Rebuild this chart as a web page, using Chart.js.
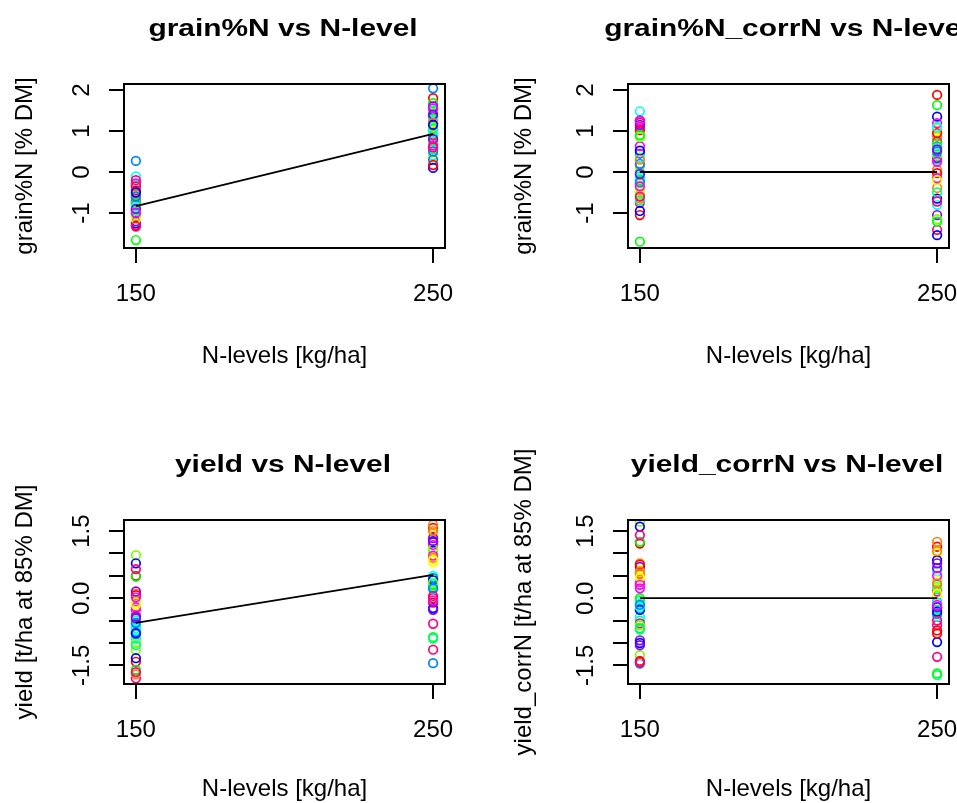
<!DOCTYPE html>
<html>
<head>
<meta charset="utf-8">
<script src="https://cdn.jsdelivr.net/npm/chart.js@4"></script>
<style>
html,body{margin:0;padding:0;background:#fff;overflow:hidden;width:957px;height:803px;}
canvas{position:absolute;}
</style>
</head>
<body>
<canvas id="c1" width="479" height="420" style="left:0px;top:0px"></canvas>
<canvas id="c2" width="479" height="420" style="left:478px;top:0px"></canvas>
<canvas id="c3" width="479" height="420" style="left:0px;top:401px"></canvas>
<canvas id="c4" width="479" height="420" style="left:478px;top:401px"></canvas>
<script>
// ---------- data ----------
const nLevels = [150, 250];
const xTickValues = [150, 250];
const yTicksGrain = [-1, 0, 1, 2];
const yTickLabelsGrain = ['-1', '0', '1', '2'];
const yTicksYield = [-1.5, -1, -0.5, 0, 0.5, 1, 1.5];
const yTickLabelsYield = ['-1.5', '', '', '0.0', '', '', '1.5'];

const panelTitles = ['grain%N vs N-level', 'grain%N_corrN vs N-level', 'yield vs N-level', 'yield_corrN vs N-level'];
const yAxisTitles = ['grain%N [% DM]', 'grain%N [% DM]', 'yield [t/ha at 85% DM]', 'yield_corrN [t/ha at 85% DM]'];
const xAxisTitle = 'N-levels [kg/ha]';

const grainN_150 = [-0.3, -0.9, -0.95, -0.5, -1.66, -0.6, -0.11, 0.27, -1.25, -0.75, -0.28, -0.2,
                    -0.45, -0.8, -1.05, -1.1, -0.35, -1.0, -0.7, -0.8, -0.95, -1.2, -0.7, -0.35,
                    -1.3, -0.55, -1.15, -0.9, -0.75, -0.95, -0.85, -0.6, -0.5, -0.9, -1.0, -1.33];
const grainN_250 = [1.8, 0.9, 0.45, 1.45, 1.68, 1.5, 0.4, 2.04, 1.35, 1.6, 1.55, 1.0,
                    0.6, 0.75, 0.35, 0.7, 1.3, 0.55, 1.25, 0.3, 0.1, 1.4, 1.2, 0.9,
                    0.17, 1.2, 1.0, 1.1, 0.85, 1.05, 0.95, 0.5, 1.15, 0.8, 0.65, 0.6];
const grainN_means = [-0.83, 0.93];

const grainNcorr_150 = [1.2, 0.15, -0.4, -0.45, -1.7, -0.1, 1.48, 0.45, 1.25, -0.3, 0.63, 1.1,
                        1.02, -0.65, -0.5, 0.85, 0.9, 0.0, 0.35, 0.2, 0.52, 1.15, 1.25, -0.75,
                        -1.05, 0.3, -0.3, -0.55, -0.2, -0.7, -0.15, -0.25, -0.95, -0.05, -0.35, -0.6];
const grainNcorr_250 = [1.88, 0.86, 1.0, 1.07, 1.63, 0.3, -0.8, 0.62, 1.35, -1.05, 1.19, 0.74,
                        0.95, 0.05, 0.5, -1.15, 0.7, 0.6, 0.45, 0.38, -0.65, 0.34, -0.15, -1.41,
                        -0.03, -0.39, -0.2, 0.4, -1.21, -0.5, 1.1, 0.5, -1.54, 0.55, 0.25, -0.72];
const grainNcorr_means = [0, 0];

const yield_150 = [0.5, 0.1, -0.04, 0.96, 0.48, -0.9, -0.67, -0.75, 0.78, 0.15, -0.26, 0.65,
                   0.07, -0.37, -0.1, -1.0, -0.57, -0.6, -0.72, -0.8, -0.78, -0.41, -0.2, -1.79,
                   -1.42, -1.7, -0.15, -1.16, -1.6, -1.05, -0.5, -0.55, -1.34, -0.45, 0.02, -1.65];
const yield_250 = [1.57, 1.64, 1.41, 1.04, 0.45, 0.25, 0.3, -1.45, 1.25, 1.34, 1.19, -0.57,
                   0.0, 1.5, 0.8, 1.1, 0.3, 0.4, 0.5, 0.45, 0.4, 1.28, 0.95, -1.15,
                   -0.1, 0.9, 0.85, 0.35, -0.87, -0.9, 0.2, 0.22, -0.22, -0.26, -0.05, 0.05];
const yield_means = [-0.55, 0.52];

const yieldCorr_150 = [1.22, 0.78, 0.63, 1.71, 1.26, -0.05, -0.12, -1.46, 1.6, 0.7, 0.36, 1.41,
                       0.75, 0.6, 0.5, -1.27, 0.0, -0.5, -0.41, -0.25, -0.26, -0.94, 0.22, -0.56,
                       -1.4, 0.55, 0.45, -0.6, -0.67, -0.7, -0.2, -0.15, -1.0, -1.05, 0.3, -1.43];
const yieldCorr_250 = [1.15, 1.26, 1.0, 0.08, 0.2, -1.72, 0.6, -0.08, 0.85, 0.78, 0.15, -0.6,
                       -0.72, 1.05, 0.4, 0.25, -0.26, 0.3, -0.41, -0.2, -0.98, 0.67, 0.5, -1.31,
                       -0.79, 0.33, 0.1, -0.3, -1.68, -0.2, -0.1, -0.35, -0.3, -0.2, -0.15, -0.5];
const yieldCorr_means = [0, 0];

// ---------- style ----------
const rainbow12 = ['#FF0000', '#FF8000', '#FFFF00', '#80FF00', '#00FF00', '#00FF80',
                   '#00FFFF', '#0080FF', '#0000FF', '#8000FF', '#FF00FF', '#FF0080'];
const FONT = "'Liberation Sans', Arial, Helvetica, sans-serif";
Chart.defaults.font.family = FONT;
Chart.defaults.font.size = 24;
Chart.defaults.color = '#000';

const rTitle = {
  id: 'rTitle',
  afterDraw(chart, args, opts) {
    const ctx = chart.ctx;
    ctx.save();
    ctx.font = 'bold 23px ' + FONT;
    ctx.fillStyle = '#000';
    ctx.textAlign = 'center';
    ctx.textBaseline = 'alphabetic';
    ctx.translate(opts.x, opts.y);
    ctx.scale(1.3, 1);
    ctx.fillText(opts.text, 0, 0);
    ctx.restore();
  }
};
const rBox = {
  id: 'rBox',
  afterDatasetsDraw(chart) {
    const a = chart.chartArea, ctx = chart.ctx;
    ctx.save();
    ctx.strokeStyle = '#000';
    ctx.lineWidth = 2;
    ctx.strokeRect(a.left, a.top, a.right - a.left, a.bottom - a.top);
    ctx.restore();
  }
};

const CW = 479, CH = 420;
const panels = [
  {id: 'c1', ox: 0,   oy: 0,   box: [124, 445, 84, 248],  yr: [-1.854, 2.146], v150: grainN_150, v250: grainN_250, means: grainN_means, yt: yTicksGrain, yl: yTickLabelsGrain, ytPad: 16, yTitleX: 10.6, xTitlePad: 49, title: panelTitles[0], ytitle: yAxisTitles[0], tx: 283, ty: 36},
  {id: 'c2', ox: 478, oy: 0,   box: [628, 949, 84, 248],  yr: [-1.854, 2.146], v150: grainNcorr_150, v250: grainNcorr_250, means: grainNcorr_means, yt: yTicksGrain, yl: yTickLabelsGrain, ytPad: 16, yTitleX: 32, xTitlePad: 49, title: panelTitles[1], ytitle: yAxisTitles[1], tx: 787, ty: 36},
  {id: 'c3', ox: 0,   oy: 401, box: [124, 445, 520, 684], yr: [-1.916, 1.747], v150: yield_150, v250: yield_250, means: yield_means, yt: yTicksYield, yl: yTickLabelsYield, ytPad: 6, yTitleX: 10.6, xTitlePad: 17, title: panelTitles[2], ytitle: yAxisTitles[2], tx: 283, ty: 472},
  {id: 'c4', ox: 478, oy: 401, box: [628, 949, 520, 684], yr: [-1.916, 1.747], v150: yieldCorr_150, v250: yieldCorr_250, means: yieldCorr_means, yt: yTicksYield, yl: yTickLabelsYield, ytPad: 6, yTitleX: 32, xTitlePad: 17, title: panelTitles[3], ytitle: yAxisTitles[3], tx: 787, ty: 472}
];

panels.forEach(p => {
  const [L, R, T, B] = p.box;
  const pts = p.v150.map(v => ({x: nLevels[0], y: v})).concat(p.v250.map(v => ({x: nLevels[1], y: v})));
  const cols = p.v150.map((v, i) => rainbow12[i % 12]).concat(p.v250.map((v, i) => rainbow12[i % 12]));
  const linePts = nLevels.map((x, i) => ({x: x, y: p.means[i]}));
  new Chart(document.getElementById(p.id), {
    type: 'scatter',
    data: {
      datasets: [
        {type: 'line', data: linePts, borderColor: '#000', borderWidth: 1.8, pointRadius: 0, fill: false, order: 0},
        {type: 'scatter', data: pts, pointStyle: 'circle', pointRadius: 4.3, pointBorderWidth: 1.7,
         pointBorderColor: cols, pointBackgroundColor: 'rgba(0,0,0,0)', order: 1}
      ]
    },
    options: {
      responsive: false,
      animation: false,
      devicePixelRatio: 1,
      layout: {padding: {top: T - p.oy, right: p.ox + CW - R, left: 0, bottom: 0}},
      plugins: {
        legend: {display: false},
        tooltip: {enabled: false},
        title: {display: false},
        rTitle: {text: p.title, x: p.tx - p.ox, y: p.ty - p.oy}
      },
      scales: {
        x: {
          type: 'linear', position: 'bottom', min: 146, max: 254,
          afterBuildTicks: s => { s.ticks = xTickValues.map(v => ({value: v})); },
          afterFit: s => { s.height = p.oy + CH - B; s.paddingLeft = 0; s.paddingRight = 0; },
          ticks: {autoSkip: false, maxRotation: 0, minRotation: 0, padding: 17, font: {size: 24},
                  callback: v => String(v)},
          grid: {display: true, drawOnChartArea: false, drawTicks: true, tickLength: 15, color: '#000', lineWidth: 2},
          border: {display: false},
          title: {display: true, text: xAxisTitle, font: {size: 24}, padding: {top: 0, bottom: p.xTitlePad}}
        },
        y: {
          type: 'linear', position: 'left', min: p.yr[0], max: p.yr[1],
          afterBuildTicks: s => { s.ticks = p.yt.map(v => ({value: v})); },
          afterFit: s => { s.width = L - p.ox; s.paddingTop = 0; s.paddingBottom = 0; },
          ticks: {autoSkip: false, minRotation: 90, maxRotation: 90, crossAlign: 'center', padding: p.ytPad, font: {size: 24},
                  callback: (v, i) => p.yl[p.yt.indexOf(v)] ?? ''},
          grid: {display: true, drawOnChartArea: false, drawTicks: true, tickLength: 15, color: '#000', lineWidth: 2},
          border: {display: false},
          title: {display: true, text: p.ytitle, font: {size: 24}, padding: {top: p.yTitleX, bottom: 0}}
        }
      }
    },
    plugins: [rTitle, rBox]
  });
});
</script>
</body>
</html>
